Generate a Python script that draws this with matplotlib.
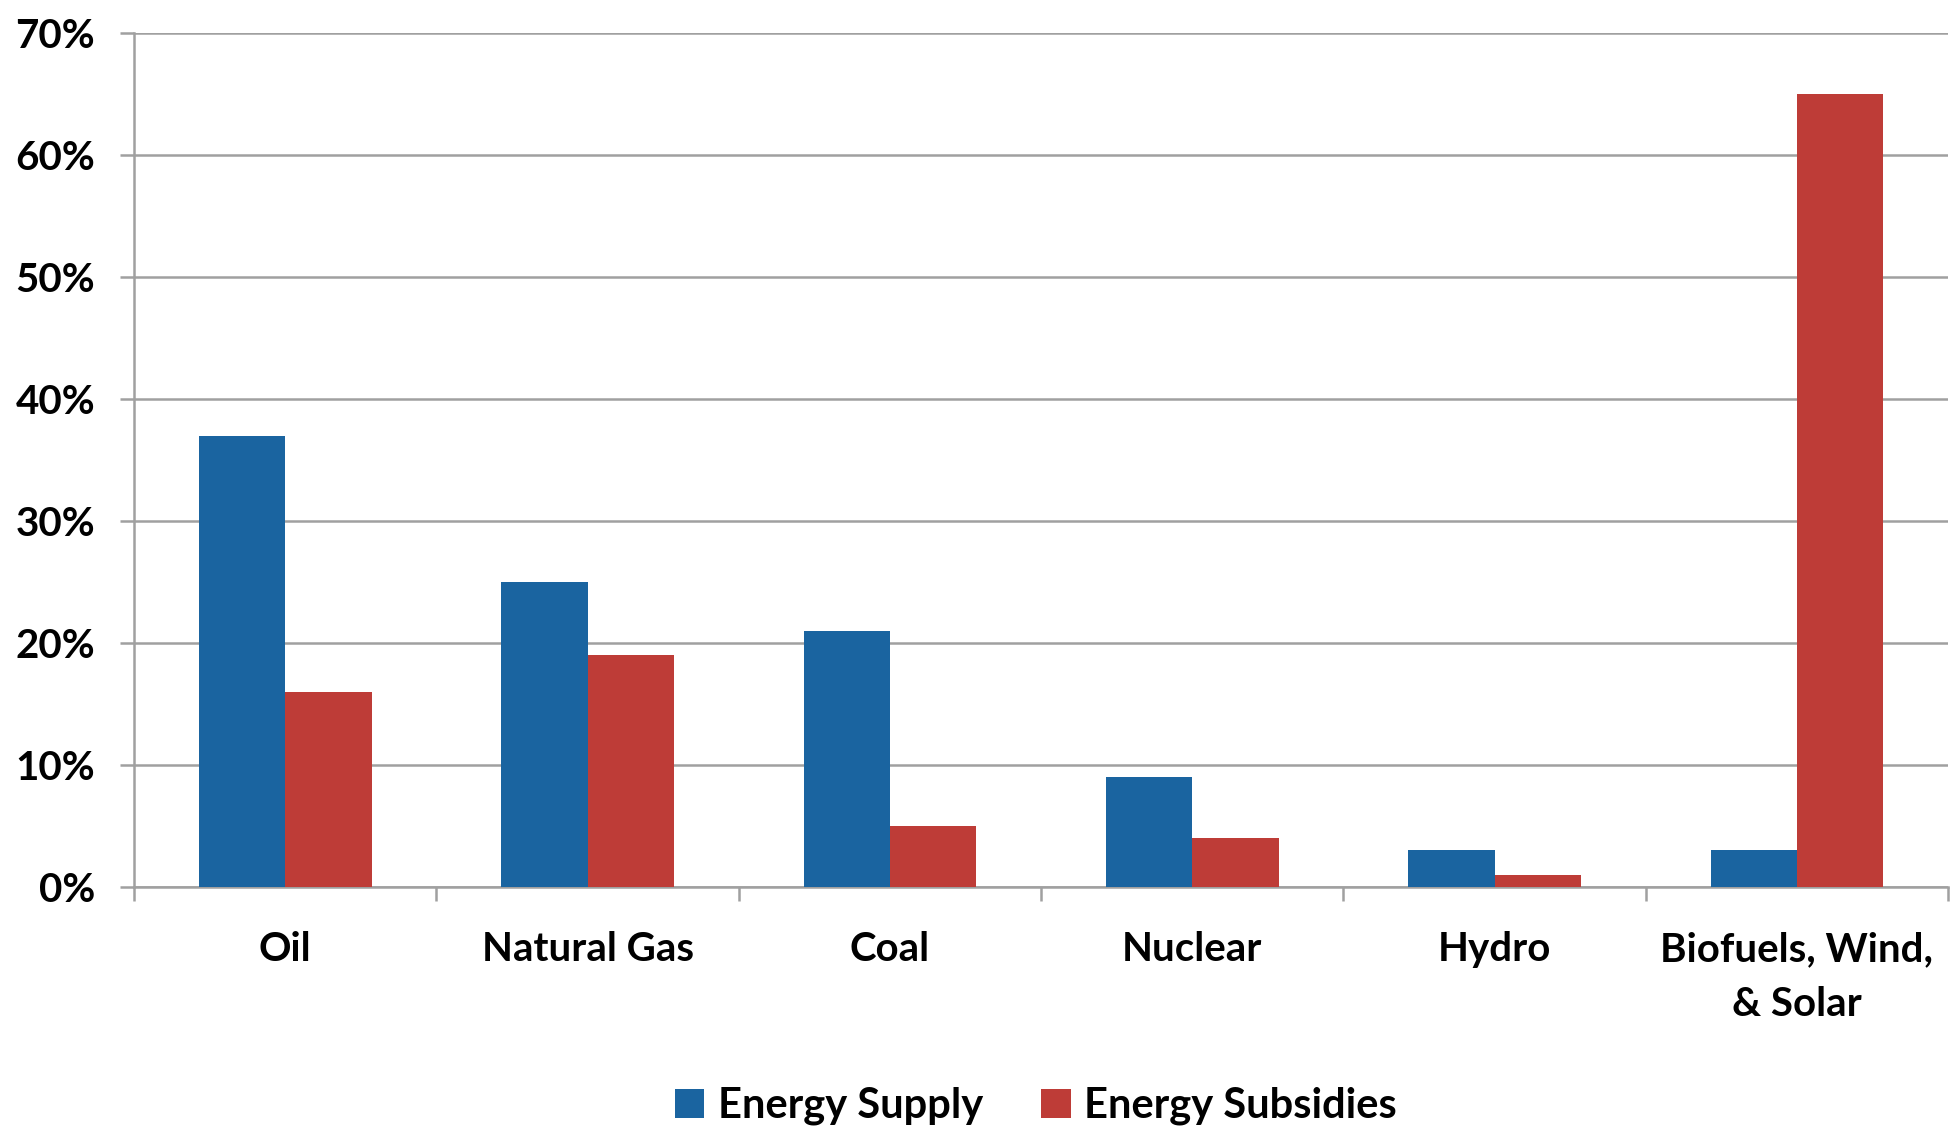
import matplotlib.pyplot as plt
import numpy as np
from matplotlib.ticker import PercentFormatter

# Share of energy supply vs share of energy subsidies by source
categories = ['Oil', 'Natural Gas', 'Coal', 'Nuclear', 'Hydro', 'Biofuels, Wind,\n& Solar']
energy_supply = [37, 25, 21, 9, 3, 3]
energy_subsidies = [16, 19, 5, 4, 1, 65]
y_ticks = [0, 10, 20, 30, 40, 50, 60, 70]

blue = '#1A64A0'
red = '#BE3C37'
grid_grey = '#A0A0A0'

plt.rcParams['font.family'] = ['Lato', 'DejaVu Sans']
plt.rcParams['font.weight'] = 'bold'

fig = plt.figure(figsize=(19.54, 11.31), dpi=100)
ax = fig.add_axes([0.0686, 0.2157, 0.9284, 0.7551])

x = np.arange(len(categories))
width = 1 / 3.5  # gap width of 150% between groups
ax.bar(x - width / 2, energy_supply, width, color=blue, label='Energy Supply', zorder=3)
ax.bar(x + width / 2, energy_subsidies, width, color=red, label='Energy Subsidies', zorder=3)

ax.set_xlim(-0.5, len(categories) - 0.5)
ax.set_ylim(0, 70)
ax.set_yticks(y_ticks)
ax.yaxis.set_major_formatter(PercentFormatter(decimals=0))
ax.yaxis.grid(True, color=grid_grey, linewidth=1.8, zorder=0)

# category labels sit between boundary ticks
ax.set_xticks(np.arange(len(categories) + 1) - 0.5)
ax.set_xticklabels([])
ax.set_xticks(x, minor=True)
ax.set_xticklabels(categories, minor=True, fontsize=29, fontweight='bold', linespacing=1.6,
                   va='top')
ax.tick_params(axis='x', which='minor', length=0, pad=32)
ax.tick_params(axis='x', which='major', length=10, width=1.8, color=grid_grey, direction='out')
ax.tick_params(axis='y', length=10, width=1.8, color=grid_grey, labelsize=29, pad=18)
for lbl in ax.get_yticklabels():
    lbl.set_fontweight('bold')

for side in ['top', 'right']:
    ax.spines[side].set_visible(False)
for side in ['left', 'bottom']:
    ax.spines[side].set_color(grid_grey)
    ax.spines[side].set_linewidth(1.8)

fig.legend(loc='center', bbox_to_anchor=(1036 / 1954, 0.022), ncol=2, frameon=False,
           prop={'size': 30, 'weight': 'bold'}, handlelength=0.7, handleheight=0.7,
           handletextpad=0.33, columnspacing=1.4)

fig.savefig('out.png', dpi=100)
